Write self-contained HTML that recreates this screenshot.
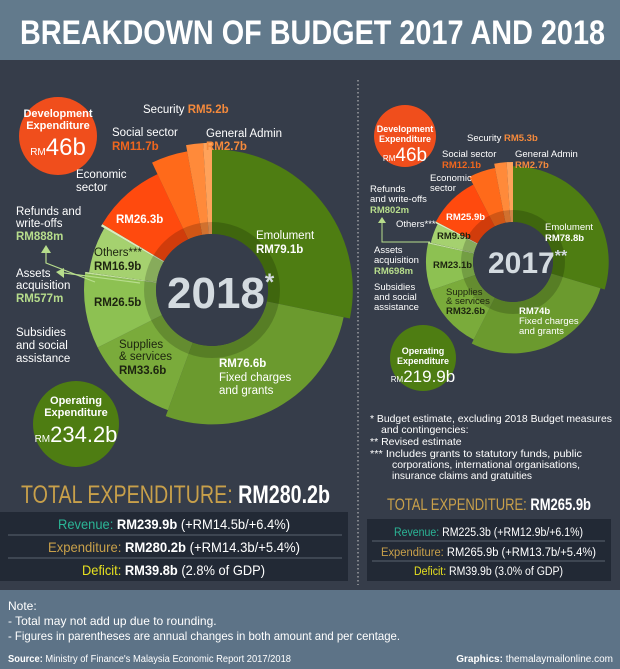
<!DOCTYPE html>
<html><head><meta charset="utf-8"><style>
body{margin:0;background:#363d4a;}
svg{display:block;font-family:"Liberation Sans Narrow","Liberation Sans",sans-serif;}
</style></head><body>
<svg id="chart" width="620" height="669" viewBox="0 0 620 669">
<rect width="620" height="669" fill="#363d4a"/>
<rect width="620" height="60" fill="#627a8c"/>
<text x="20" y="44" font-size="34" font-weight="bold" fill="#fff" textLength="585" lengthAdjust="spacingAndGlyphs">BREAKDOWN OF BUDGET 2017 AND 2018</text>
<line x1="358" y1="80" x2="358" y2="585" stroke="#ccc" stroke-dasharray="1.5,2.5"/>
<g id="d2018"></g>
<g id="d2017"></g>

<!-- 2018 bubbles -->
<circle cx="58" cy="136" r="39" fill="#f04e1c"/>
<text x="58" y="117" font-size="11" font-weight="bold" fill="#fff" text-anchor="middle">Development</text>
<text x="58" y="129" font-size="11" font-weight="bold" fill="#fff" text-anchor="middle">Expenditure</text>
<text x="58" y="155" font-size="24" fill="#fff" text-anchor="middle"><tspan font-size="10">RM</tspan>46b</text>
<circle cx="76" cy="424" r="43" fill="#4e7d12"/>
<text x="76" y="404" font-size="11" font-weight="bold" fill="#fff" text-anchor="middle">Operating</text>
<text x="76" y="416" font-size="11" font-weight="bold" fill="#fff" text-anchor="middle">Expenditure</text>
<text x="76" y="442" font-size="22" fill="#fff" text-anchor="middle"><tspan font-size="10">RM</tspan>234.2b</text>

<!-- 2018 labels -->
<g font-size="11.5" fill="#fff">
<text x="143" y="113">Security <tspan fill="#f58a3c" font-weight="bold">RM5.2b</tspan></text>
<text x="112" y="136">Social sector</text>
<text x="112" y="150" fill="#f0661e" font-weight="bold">RM11.7b</text>
<text x="206" y="137">General Admin</text>
<text x="206" y="150" fill="#f58a3c" font-weight="bold">RM2.7b</text>
<text x="76" y="178">Economic</text>
<text x="76" y="191">sector</text>
<text x="116" y="223" font-weight="bold">RM26.3b</text>
<text x="16" y="215">Refunds and</text>
<text x="16" y="227">write-offs</text>
<text x="16" y="240" fill="#b7dd8c" font-weight="bold">RM888m</text>
<text x="16" y="277">Assets</text>
<text x="16" y="289">acquisition</text>
<text x="16" y="302" fill="#b7dd8c" font-weight="bold">RM577m</text>
<text x="16" y="336">Subsidies</text>
<text x="16" y="349">and social</text>
<text x="16" y="362">assistance</text>
<text x="94" y="256" fill="#1d2410">Others***</text>
<text x="94" y="270" fill="#1d2410" font-weight="bold">RM16.9b</text>
<text x="94" y="306" fill="#1d2410" font-weight="bold">RM26.5b</text>
<text x="119" y="348" fill="#1d2410">Supplies</text>
<text x="119" y="360" fill="#1d2410">&amp; services</text>
<text x="119" y="374" fill="#1d2410" font-weight="bold">RM33.6b</text>
<text x="256" y="239">Emolument</text>
<text x="256" y="253" font-weight="bold">RM79.1b</text>
<text x="219" y="367" font-weight="bold">RM76.6b</text>
<text x="219" y="381">Fixed charges</text>
<text x="219" y="394">and grants</text>
</g>
<text x="167" y="308" font-size="44" font-weight="bold" fill="#d4dbe0">2018<tspan font-size="24" dy="-18">*</tspan></text>
<polyline points="95,282 46,263 46,252" fill="none" stroke="#b7dd8c" stroke-width="1.2"/>
<polygon points="41,253 51,253 46,245" fill="#b7dd8c"/>
<line x1="140" y1="283" x2="64" y2="273" stroke="#b7dd8c" stroke-width="1.2"/>
<polygon points="56,272 64,268 64,278" fill="#b7dd8c"/>

<!-- 2017 bubbles -->
<circle cx="405" cy="136" r="31" fill="#f04e1c"/>
<text x="405" y="132" font-size="9" font-weight="bold" fill="#fff" text-anchor="middle">Development</text>
<text x="405" y="142" font-size="9" font-weight="bold" fill="#fff" text-anchor="middle">Expenditure</text>
<text x="405" y="161" font-size="19" fill="#fff" text-anchor="middle"><tspan font-size="8">RM</tspan>46b</text>
<circle cx="423" cy="358" r="33" fill="#4e7d12"/>
<text x="423" y="354" font-size="9" font-weight="bold" fill="#fff" text-anchor="middle">Operating</text>
<text x="423" y="364" font-size="9" font-weight="bold" fill="#fff" text-anchor="middle">Expenditure</text>
<text x="423" y="382" font-size="17" fill="#fff" text-anchor="middle"><tspan font-size="8">RM</tspan>219.9b</text>

<g font-size="9.5" fill="#fff">
<text x="467" y="141">Security <tspan fill="#f58a3c" font-weight="bold">RM5.3b</tspan></text>
<text x="442" y="157">Social sector</text>
<text x="442" y="168" fill="#f0661e" font-weight="bold">RM12.1b</text>
<text x="515" y="157">General Admin</text>
<text x="515" y="168" fill="#f58a3c" font-weight="bold">RM2.7b</text>
<text x="430" y="181">Economic</text>
<text x="430" y="191">sector</text>
<text x="370" y="192">Refunds</text>
<text x="370" y="202">and write-offs</text>
<text x="370" y="213" fill="#b7dd8c" font-weight="bold">RM802m</text>
<text x="396" y="227">Others***</text>
<text x="446" y="220" font-weight="bold">RM25.9b</text>
<text x="437" y="239" fill="#1d2410" font-weight="bold">RM9.9b</text>
<text x="374" y="253">Assets</text>
<text x="374" y="263">acquisition</text>
<text x="374" y="274" fill="#b7dd8c" font-weight="bold">RM698m</text>
<text x="433" y="268" fill="#1d2410" font-weight="bold">RM23.1b</text>
<text x="374" y="290">Subsidies</text>
<text x="374" y="300">and social</text>
<text x="374" y="310">assistance</text>
<text x="446" y="295" fill="#1d2410">Supplies</text>
<text x="446" y="304" fill="#1d2410">&amp; services</text>
<text x="446" y="314" fill="#1d2410" font-weight="bold">RM32.6b</text>
<text x="545" y="230">Emolument</text>
<text x="545" y="241" font-weight="bold">RM78.8b</text>
<text x="519" y="314" font-weight="bold">RM74b</text>
<text x="519" y="324">Fixed charges</text>
<text x="519" y="334">and grants</text>
</g>
<text x="488" y="273" font-size="30" font-weight="bold" fill="#d4dbe0">2017<tspan font-size="16" dy="-12">**</tspan></text>
<polyline points="430,242 382,242 382,222" fill="none" stroke="#b7dd8c" stroke-width="1"/>
<polygon points="378,223 386,223 382,217" fill="#b7dd8c"/>

<!-- footnotes -->
<g font-size="10.5" fill="#fff" lengthAdjust="spacingAndGlyphs">
<text x="370" y="422" textLength="242" lengthAdjust="spacingAndGlyphs">* Budget estimate, excluding 2018 Budget measures</text>
<text x="381" y="433">and contingencies:</text>
<text x="370" y="445">** Revised estimate</text>
<text x="370" y="457" textLength="212" lengthAdjust="spacingAndGlyphs">*** Includes grants to statutory funds, public</text>
<text x="392" y="468" textLength="188" lengthAdjust="spacingAndGlyphs">corporations, international organisations,</text>
<text x="392" y="479" textLength="140" lengthAdjust="spacingAndGlyphs">insurance claims and gratuities</text>
</g>

<!-- totals 2018 -->
<text x="21" y="503" font-size="25" fill="#c8a04a" textLength="309" lengthAdjust="spacingAndGlyphs">TOTAL EXPENDITURE: <tspan fill="#fff" font-weight="bold">RM280.2b</tspan></text>
<rect x="0" y="512" width="348" height="69" fill="#222935"/>
<line x1="8" y1="535" x2="342" y2="535" stroke="#5a6270"/>
<line x1="8" y1="558" x2="342" y2="558" stroke="#5a6270"/>
<g font-size="14" fill="#fff">
<text x="58" y="529" textLength="232" lengthAdjust="spacingAndGlyphs"><tspan fill="#2bb596">Revenue:</tspan> <tspan font-weight="bold">RM239.9b</tspan> (+RM14.5b/+6.4%)</text>
<text x="48" y="552" textLength="252" lengthAdjust="spacingAndGlyphs"><tspan fill="#c8a04a">Expenditure:</tspan> <tspan font-weight="bold">RM280.2b</tspan> (+RM14.3b/+5.4%)</text>
<text x="82" y="575" textLength="183" lengthAdjust="spacingAndGlyphs"><tspan fill="#e6e020">Deficit:</tspan> <tspan font-weight="bold">RM39.8b</tspan> (2.8% of GDP)</text>
</g>
<!-- totals 2017 -->
<text x="387" y="510" font-size="17" fill="#c8a04a" textLength="204" lengthAdjust="spacingAndGlyphs">TOTAL EXPENDITURE: <tspan fill="#fff" font-weight="bold">RM265.9b</tspan></text>
<rect x="367" y="519" width="244" height="62" fill="#222935"/>
<line x1="372" y1="541" x2="605" y2="541" stroke="#5a6270"/>
<line x1="372" y1="561" x2="605" y2="561" stroke="#5a6270"/>
<g font-size="11.5" fill="#fff">
<text x="394" y="536" textLength="189" lengthAdjust="spacingAndGlyphs"><tspan fill="#2bb596">Revenue:</tspan> RM225.3b (+RM12.9b/+6.1%)</text>
<text x="381" y="556" textLength="215" lengthAdjust="spacingAndGlyphs"><tspan fill="#c8a04a">Expenditure:</tspan> RM265.9b (+RM13.7b/+5.4%)</text>
<text x="414" y="575" textLength="149" lengthAdjust="spacingAndGlyphs"><tspan fill="#e6e020">Deficit:</tspan> RM39.9b (3.0% of GDP)</text>
</g>

<!-- notes -->
<rect x="0" y="590" width="620" height="79" fill="#5d7387"/>
<g font-size="12" fill="#fff">
<text x="8" y="610">Note:</text>
<text x="8" y="625">- Total may not add up due to rounding.</text>
<text x="8" y="640" textLength="392" lengthAdjust="spacingAndGlyphs">- Figures in parentheses are annual changes in both amount and per centage.</text>
<text x="8" y="662" font-size="10" textLength="283" lengthAdjust="spacingAndGlyphs"><tspan font-weight="bold">Source:</tspan> Ministry of Finance's Malaysia Economic Report 2017/2018</text>
<text x="613" y="662" font-size="10" text-anchor="end"><tspan font-weight="bold">Graphics:</tspan> themalaymailonline.com</text>
</g>
</svg>
<script>
const categories=["Emolument","Fixed charges and grants","Supplies & services","Subsidies and social assistance","Assets acquisition","Others","Refunds and write-offs","Economic sector","Social sector","Security","General Admin"];
const values2018=[79.1,76.6,33.6,26.5,0.577,16.9,0.888,26.3,11.7,5.2,2.7];
const values2017=[78.8,74,32.6,23.1,0.698,9.9,0.802,25.9,12.1,5.3,2.7];
const sliceColors=["#4e7d12","#6b9a2e","#7aab3b","#8dc152","#c4e39c","#a5d16f","#d8eebd","#ff4a0e","#ff6a1a","#ff8a3a","#ffa25a"];
const radiusFactor=[1.1,1.05,1.0,1.0,1.0,0.97,1.0,1.0,1.1,1.15,1.15];
const NS="http://www.w3.org/2000/svg";
function angleScale(vals){const t=vals.reduce((a,b)=>a+b,0);return v=>v/t*Math.PI*2;}
function pt(cx,cy,r,a){return [cx+r*Math.sin(a),cy-r*Math.cos(a)];}
function drawDonut(gid,vals,cx,cy,R,r0,year){
  const g=document.getElementById(gid);const sc=angleScale(vals);let a=0;
  vals.forEach((v,i)=>{
    const a1=a+sc(v);const ro=R*radiusFactor[i];
    const p1=pt(cx,cy,ro,a),p2=pt(cx,cy,ro,a1),p3=pt(cx,cy,r0,a1),p4=pt(cx,cy,r0,a);
    const lg=(a1-a)>Math.PI?1:0;
    const p=document.createElementNS(NS,"path");
    p.setAttribute("d",`M${p1}A${ro},${ro} 0 ${lg} 1 ${p2}L${p3}A${r0},${r0} 0 ${lg} 0 ${p4}Z`);
    p.setAttribute("fill",sliceColors[i]);
    
    
    g.appendChild(p);a=a1;
  });
  const ring=document.createElementNS(NS,"circle");
  ring.setAttribute("cx",cx);ring.setAttribute("cy",cy);ring.setAttribute("r",r0+6);
  ring.setAttribute("fill","none");ring.setAttribute("stroke","rgba(0,0,0,0.18)");ring.setAttribute("stroke-width",12);
  
  
  g.appendChild(ring);
  const hole=document.createElementNS(NS,"circle");
  hole.setAttribute("cx",cx);hole.setAttribute("cy",cy);hole.setAttribute("r",r0);hole.setAttribute("fill","#363d4a");
  
  
  g.appendChild(hole);
}
drawDonut("d2018",values2018,212,290,128,56,"2018");
drawDonut("d2017",values2017,513,262,87,40,"2017");
</script>
</body></html>
